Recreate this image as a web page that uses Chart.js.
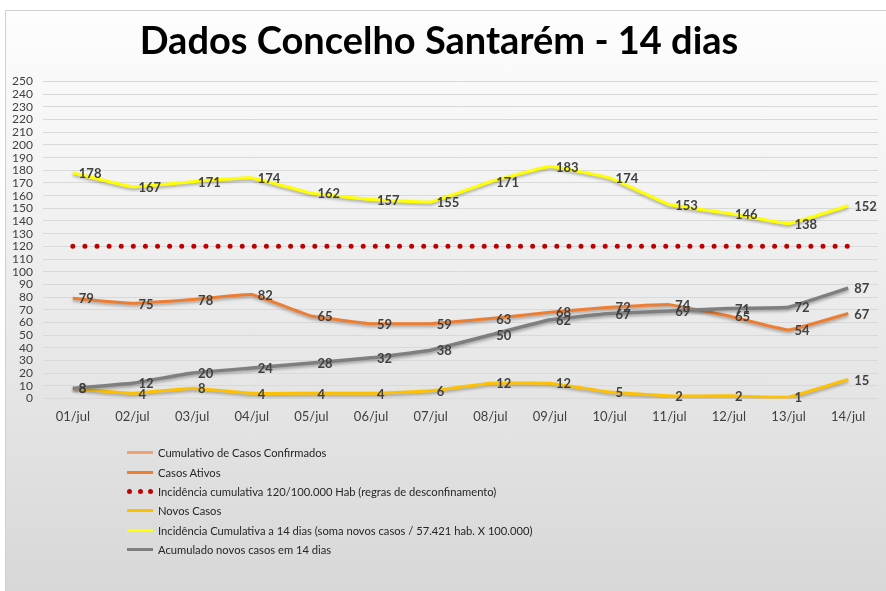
<!DOCTYPE html>
<html lang="pt">
<head>
<meta charset="utf-8">
<title>Dados Concelho Santarém - 14 dias</title>
<script src="https://cdn.jsdelivr.net/npm/chart.js@4.4.1/dist/chart.umd.min.js"></script>
<style>
  html, body { margin: 0; padding: 0; background: #fff; overflow: hidden; }
  #quadro {
    position: absolute; left: 5px; top: 10px; width: 895px; height: 585px;
    border: 1px solid #cfcfcf;
    background: linear-gradient(#fdfdfd, #f1f1f1 35%, #d7d7d7);
  }
  #grafico { position: absolute; left: 0; top: 0; }
  #legenda {
    position: absolute; left: 127px; top: 443px;
    font-family: Lato, "Open Sans", sans-serif; font-size: 11.2px; color: #262626;
  }
  .item { height: 19.4px; display: flex; align-items: center; white-space: nowrap; }
  .amostra { width: 26px; height: 3px; margin-right: 5px; }
  .pontos { width: 26px; margin-right: 5px; display: flex; justify-content: space-between; }
  .pontos span { width: 5px; height: 5px; border-radius: 50%; display: block; }
</style>
</head>
<body>
<div id="quadro"></div>
<canvas id="grafico" width="886" height="591"></canvas>
<div id="legenda"></div>
<script>
// --- dados ---
const dias = ['01/jul', '02/jul', '03/jul', '04/jul', '05/jul', '06/jul', '07/jul',
              '08/jul', '09/jul', '10/jul', '11/jul', '12/jul', '13/jul', '14/jul'];

const cumulativoConfirmados = [8, null, null, null, null, null, null, null, null, null, null, null, null, null];
const casosAtivos = [79, 75, 78, 82, 65, 59, 59, 63, 68, 72, 74, 65, 54, 67];
const limiteIncidencia = [120, 120, 120, 120, 120, 120, 120, 120, 120, 120, 120, 120, 120, 120];
const novosCasos = [8, 4, 8, 4, 4, 4, 6, 12, 12, 5, 2, 2, 1, 15];
const incidencia14 = [178, 167, 171, 174, 162, 157, 155, 171, 183, 174, 153, 146, 138, 152];
const acumulado14 = [8, 12, 20, 24, 28, 32, 38, 50, 62, 67, 69, 71, 72, 87];

const fonte = 'Lato, "Open Sans", sans-serif';

// sombra leve por baixo das linhas (como no Excel)
const sombraPlugin = {
    id: 'sombra',
    beforeDatasetDraw(chart, args) {
        const ds = chart.data.datasets[args.index];
        chart.ctx.save();
        if (ds.pontilhado) return;
        chart.ctx.shadowColor = 'rgba(0,0,0,0.3)';
        chart.ctx.shadowBlur = 3;
        chart.ctx.shadowOffsetY = 2;
    },
    afterDatasetDraw(chart) {
        chart.ctx.restore();
    }
};

// rótulos de valores à direita de cada ponto
const rotulosPlugin = {
    id: 'rotulos',
    afterDatasetsDraw(chart) {
        const ctx = chart.ctx;
        ctx.save();
        ctx.font = 'bold 13px ' + fonte;
        ctx.fillStyle = '#404040';
        ctx.textBaseline = 'middle';
        ctx.textAlign = 'left';
        chart.data.datasets.forEach((ds, i) => {
            if (!ds.comValores) return;
            const meta = chart.getDatasetMeta(i);
            meta.data.forEach((pt, j) => {
                const v = ds.data[j];
                if (v === null || v === undefined) return;
                ctx.fillText(String(v), pt.x + 6, pt.y + 1);
            });
        });
        ctx.restore();
    }
};

const linha = (label, data, cor, ordem, extra) => Object.assign({
    label: label,
    data: data,
    borderColor: cor,
    backgroundColor: cor,
    borderWidth: 3,
    pointRadius: 0,
    tension: 0.08,
    order: ordem
}, extra || {});

const grafico = new Chart(document.getElementById('grafico'), {
    type: 'line',
    data: {
        labels: dias,
        datasets: [
            linha('Cumulativo de Casos Confirmados', cumulativoConfirmados, '#F4A070', 6),
            linha('Casos Ativos', casosAtivos, '#ED7D31', 5, { comValores: true }),
            linha('Incidência cumulativa 120/100.000 Hab (regras de desconfinamento)', limiteIncidencia, '#C00000', 4,
                  { borderWidth: 5, borderDash: [0, 12.1], borderCapStyle: 'round', tension: 0, pontilhado: true }),
            linha('Novos Casos', novosCasos, '#FFC000', 3, { comValores: true }),
            linha('Incidência Cumulativa a 14 dias (soma novos casos / 57.421 hab. X 100.000)', incidencia14, '#FFFF00', 2, { comValores: true }),
            linha('Acumulado novos casos em 14 dias', acumulado14, '#7F7F7F', 1, { comValores: true, borderWidth: 3.5 })
        ]
    },
    options: {
        responsive: false,
        animation: false,
        layout: { padding: { left: 0, right: 8, top: 0, bottom: 163 } },
        plugins: {
            legend: { display: false },
            tooltip: { enabled: false },
            title: {
                display: true,
                text: 'Dados Concelho Santarém - 14 dias',
                color: '#000',
                font: { family: fonte, size: 38, weight: 'bold' },
                padding: { top: 19, bottom: 17 }
            }
        },
        scales: {
            y: {
                min: 0,
                max: 250,
                afterFit: (scale) => { scale.width = 43; },
                ticks: {
                    stepSize: 10,
                    autoSkip: false,
                    padding: 10,
                    color: '#404040',
                    font: { family: fonte, size: 12, lineHeight: 1 }
                },
                grid: { color: '#d9d9d9', drawTicks: false },
                border: { display: false }
            },
            x: {
                offset: true,
                grid: { display: false, offset: true },
                border: { display: false },
                ticks: {
                    padding: 3,
                    color: '#404040',
                    font: { family: fonte, size: 13 }
                }
            }
        }
    },
    plugins: [sombraPlugin, rotulosPlugin]
});

// legenda em lista vertical, gerada a partir das séries
const legenda = document.getElementById('legenda');
grafico.data.datasets.forEach(ds => {
    const item = document.createElement('div');
    item.className = 'item';
    if (ds.pontilhado) {
        const p = document.createElement('div');
        p.className = 'pontos';
        for (let k = 0; k < 3; k++) {
            const s = document.createElement('span');
            s.style.background = ds.borderColor;
            p.appendChild(s);
        }
        item.appendChild(p);
    } else {
        const a = document.createElement('div');
        a.className = 'amostra';
        a.style.background = ds.borderColor;
        item.appendChild(a);
    }
    const t = document.createElement('span');
    t.textContent = ds.label;
    item.appendChild(t);
    legenda.appendChild(item);
});
</script>
</body>
</html>
